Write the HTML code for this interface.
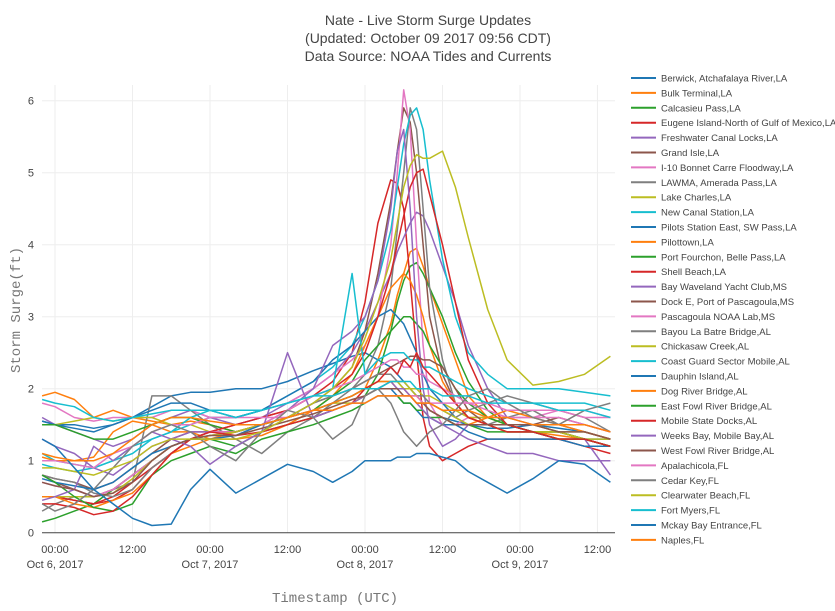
<!DOCTYPE html>
<html><head><meta charset="utf-8">
<style>
body{margin:0;background:#fff;}
svg{display:block;font-family:"Liberation Sans",sans-serif;}
</style></head>
<body>
<svg id="chart" width="835" height="611">
  <g id="grid"></g>
  <g id="lines"></g>
  <g id="axes"></g>
  <g id="legend"></g>
  <text x="428" y="25" text-anchor="middle" font-size="14" fill="#444">Nate - Live Storm Surge Updates</text>
  <text x="428" y="43" text-anchor="middle" font-size="14" fill="#444">(Updated: October 09 2017 09:56 CDT)</text>
  <text x="428" y="61" text-anchor="middle" font-size="14" fill="#444">Data Source: NOAA Tides and Currents</text>
  <text x="0" y="0" transform="translate(20,310) rotate(-90)" text-anchor="middle" font-size="14" fill="#777" font-family="Liberation Mono, monospace">Storm Surge(ft)</text>
  <text x="335" y="602" text-anchor="middle" font-size="14" fill="#777" font-family="Liberation Mono, monospace">Timestamp (UTC)</text>
</svg>
<script>
const hours = [-2,0,3,6,9,12,15,18,21,24,28,32,36,40,43,46,48,50,52,53,54,55,56,57,58,60,62,64,67,70,74,78,82,86];
const names = ["Berwick, Atchafalaya River,LA","Bulk Terminal,LA","Calcasieu Pass,LA","Eugene Island-North of Gulf of Mexico,LA","Freshwater Canal Locks,LA","Grand Isle,LA","I-10 Bonnet Carre Floodway,LA","LAWMA, Amerada Pass,LA","Lake Charles,LA","New Canal Station,LA","Pilots Station East, SW Pass,LA","Pilottown,LA","Port Fourchon, Belle Pass,LA","Shell Beach,LA","Bay Waveland Yacht Club,MS","Dock E, Port of Pascagoula,MS","Pascagoula NOAA Lab,MS","Bayou La Batre Bridge,AL","Chickasaw Creek,AL","Coast Guard Sector Mobile,AL","Dauphin Island,AL","Dog River Bridge,AL","East Fowl River Bridge,AL","Mobile State Docks,AL","Weeks Bay, Mobile Bay,AL","West Fowl River Bridge,AL","Apalachicola,FL","Cedar Key,FL","Clearwater Beach,FL","Fort Myers,FL","Mckay Bay Entrance,FL","Naples,FL"];
const colors = ["#1f77b4","#ff7f0e","#2ca02c","#d62728","#9467bd","#8c564b","#e377c2","#7f7f7f","#bcbd22","#17becf"];
const s0=[1.55,1.5,1.5,1.45,1.5,1.6,1.75,1.9,1.95,1.95,2.0,2.0,2.1,2.25,2.35,2.45,2.5,2.4,2.3,2.2,2.1,2.0,1.9,1.8,1.7,1.6,1.55,1.5,1.45,1.45,1.5,1.45,1.4,1.3];
const s1=[1.9,1.95,1.85,1.6,1.7,1.6,1.55,1.5,1.55,1.5,1.4,1.5,1.6,1.7,1.8,1.9,2.0,2.4,2.9,3.3,3.6,3.9,3.95,3.7,3.4,2.9,2.4,1.9,1.6,1.5,1.4,1.35,1.3,1.2];
const s2=[0.15,0.2,0.3,0.4,0.6,0.8,1.0,1.2,1.3,1.3,1.2,1.4,1.5,1.6,1.7,1.8,1.9,2.2,2.8,3.2,3.5,3.7,3.75,3.6,3.4,3.0,2.5,2.1,1.7,1.5,1.4,1.4,1.3,1.2];
const s3=[0.5,0.5,0.45,0.4,0.5,0.7,0.9,1.1,1.3,1.4,1.5,1.6,1.7,1.9,2.1,2.5,3.2,4.3,4.9,4.85,4.5,3.5,2.5,1.6,1.2,1.0,1.1,1.2,1.3,1.3,1.3,1.3,1.2,1.1];
const s4=[1.6,1.5,1.4,1.3,1.2,1.3,1.5,1.6,1.7,1.6,1.5,1.6,1.8,2.0,2.2,2.5,2.8,3.2,3.6,3.9,4.1,4.3,4.45,4.4,4.2,3.7,3.2,2.6,2.0,1.6,1.5,1.4,1.3,1.2];
const s5=[0.8,0.75,0.7,0.6,0.7,0.9,1.1,1.3,1.4,1.4,1.4,1.5,1.6,1.8,2.0,2.3,2.8,3.6,4.6,5.3,5.9,5.7,5.0,4.0,3.0,2.2,1.8,1.6,1.5,1.4,1.4,1.3,1.3,1.2];
const s6=[1.8,1.75,1.6,1.55,1.6,1.6,1.6,1.7,1.7,1.6,1.6,1.7,1.8,2.0,2.2,2.4,2.6,3.0,4.0,5.0,6.15,5.6,4.0,2.6,1.8,1.5,1.5,1.6,1.6,1.6,1.6,1.7,1.7,1.6];
const s7=[0.3,0.4,0.5,0.5,0.6,0.7,1.9,1.9,1.7,1.5,1.3,1.1,1.4,1.6,1.8,2.0,2.2,2.6,3.4,4.2,5.0,5.9,5.6,4.5,3.4,2.4,1.8,1.6,1.5,1.6,1.7,1.5,1.4,1.3];
const s8=[1.5,1.5,1.55,1.6,1.55,1.6,1.6,1.5,1.5,1.4,1.4,1.5,1.6,1.7,1.8,1.8,1.9,2.0,2.1,2.1,2.1,2.0,2.0,1.9,1.9,1.8,1.7,1.6,1.6,1.5,1.5,1.4,1.4,1.3];
const s9=[1.1,1.0,0.95,0.9,1.0,1.2,1.3,1.4,1.5,1.6,1.6,1.7,1.9,2.1,2.3,2.6,3.0,3.5,4.2,4.8,5.4,5.8,5.9,5.6,4.9,3.8,3.0,2.5,2.2,2.0,2.0,2.0,1.95,1.9];
const s10=[1.55,1.5,1.45,1.4,1.5,1.6,1.7,1.8,1.8,1.7,1.6,1.7,1.9,2.1,2.4,2.6,2.8,3.0,3.1,3.0,2.9,2.7,2.5,2.2,2.0,1.8,1.6,1.5,1.5,1.5,1.4,1.4,1.3,1.3];
const s11=[1.05,1.0,1.0,1.05,1.4,1.55,1.5,1.4,1.4,1.3,1.4,1.5,1.6,1.7,1.9,2.2,2.6,3.0,3.4,3.5,3.6,3.5,3.3,3.0,2.6,2.1,1.8,1.6,1.5,1.4,1.4,1.4,1.3,1.2];
const s12=[1.5,1.5,1.4,1.3,1.3,1.4,1.5,1.6,1.6,1.5,1.4,1.5,1.6,1.7,1.9,2.1,2.4,2.6,2.8,2.9,3.0,3.0,2.9,2.8,2.6,2.3,2.0,1.8,1.6,1.5,1.4,1.4,1.3,1.2];
const s13=[0.5,0.5,0.45,0.4,0.45,0.6,0.9,1.1,1.3,1.4,1.5,1.6,1.7,1.9,2.0,2.2,2.5,3.0,3.6,4.0,4.4,4.8,5.0,5.05,4.7,4.0,3.2,2.4,1.8,1.5,1.4,1.3,1.3,1.2];
const s14=[1.3,1.2,1.1,0.9,0.8,1.0,1.2,1.3,1.4,1.4,1.4,1.5,1.7,2.0,2.6,2.8,3.0,3.5,4.5,5.3,5.6,4.5,3.0,2.0,1.5,1.2,1.3,1.5,1.5,1.4,1.4,1.3,1.3,0.8];
const s15=[0.8,0.7,0.6,0.5,0.6,0.8,1.0,1.2,1.3,1.4,1.4,1.5,1.6,1.8,1.9,2.0,2.1,2.2,2.3,2.35,2.4,2.45,2.45,2.4,2.4,2.3,2.0,1.7,1.5,1.5,1.5,1.6,1.5,1.4];
const s16=[0.7,0.65,0.6,0.5,0.6,0.8,1.0,1.2,1.3,1.4,1.4,1.5,1.7,1.9,2.0,2.1,2.2,2.3,2.4,2.4,2.3,2.3,2.2,2.2,2.1,2.0,1.9,1.8,1.7,1.6,1.6,1.6,1.5,1.4];
const s17=[0.8,0.75,0.7,0.55,0.5,0.6,0.9,1.1,1.3,1.35,1.4,1.5,1.6,1.8,1.9,2.0,2.1,2.2,2.2,2.1,2.0,2.0,1.9,1.9,1.8,1.7,1.6,1.7,1.8,1.9,1.8,1.7,1.6,1.4];
const s18=[0.5,0.5,0.5,0.5,0.55,0.75,1.0,1.2,1.3,1.35,1.4,1.5,1.6,1.7,1.8,1.9,2.0,2.1,2.1,2.1,2.0,2.0,1.9,1.8,1.8,1.7,1.6,1.5,1.5,1.4,1.4,1.4,1.3,1.3];
const s19=[0.95,0.9,0.85,0.9,1.0,1.1,1.3,1.4,1.6,1.7,1.7,1.7,1.8,1.9,2.0,3.6,2.2,2.4,2.5,2.5,2.5,2.4,2.4,2.3,2.3,2.2,2.1,2.0,1.9,1.8,1.8,1.8,1.8,1.7];
const s20=[0.75,0.7,0.65,0.6,0.7,0.9,1.1,1.2,1.3,1.3,1.35,1.5,1.6,1.7,1.8,1.9,2.0,2.0,2.0,1.9,1.8,1.8,1.7,1.6,1.6,1.5,1.5,1.4,1.3,1.3,1.3,1.3,1.2,1.2];
const s21=[0.5,0.5,0.4,0.35,0.45,0.55,0.8,1.1,1.2,1.3,1.3,1.35,1.5,1.7,1.8,1.9,2.0,2.1,2.1,2.0,2.0,1.9,1.9,1.8,1.7,1.6,1.5,1.5,1.6,1.7,1.6,1.5,1.4,1.3];
const s22=[0.8,0.7,0.5,0.35,0.3,0.4,0.8,1.0,1.1,1.2,1.1,1.3,1.4,1.5,1.6,1.7,1.8,1.9,1.9,1.9,1.8,1.8,1.7,1.7,1.6,1.6,1.5,1.5,1.4,1.4,1.4,1.3,1.3,1.2];
const s23=[0.4,0.4,0.35,0.25,0.3,0.5,0.8,1.1,1.3,1.4,1.35,1.4,1.5,1.6,1.7,1.8,2.0,2.1,2.3,2.2,2.4,2.3,2.5,2.3,2.2,2.0,1.8,1.6,1.5,1.4,1.4,1.3,1.3,1.2];
const s24=[0.45,0.5,0.6,1.2,1.0,1.2,1.4,1.3,1.2,0.95,1.2,1.4,2.5,1.6,1.7,1.8,1.9,2.0,2.1,2.0,2.0,1.9,1.8,1.7,1.6,1.5,1.4,1.3,1.2,1.1,1.1,1.0,1.0,1.0];
const s25=[0.7,0.65,0.6,0.5,0.55,0.7,1.0,1.2,1.3,1.35,1.35,1.45,1.55,1.65,1.75,1.85,1.9,2.0,2.0,2.0,1.9,1.9,1.8,1.8,1.7,1.6,1.5,1.5,1.5,1.5,1.5,1.4,1.4,1.3];
const s26=[1.0,1.0,0.95,0.9,1.1,1.2,1.4,1.5,1.5,1.6,1.6,1.6,1.6,1.7,1.7,1.8,1.8,1.9,1.9,1.9,1.9,1.9,1.9,1.8,1.8,1.8,1.8,1.8,1.8,1.7,1.7,1.7,1.6,1.6];
const s27=[0.4,0.3,0.4,0.6,0.9,1.2,1.4,1.5,1.4,1.2,1.0,1.4,1.7,1.6,1.3,1.5,1.9,2.0,1.8,1.6,1.4,1.3,1.2,1.3,1.4,1.5,1.7,1.9,2.0,1.8,1.6,1.5,1.7,1.8];
const s28=[0.9,0.9,0.85,0.8,0.9,1.0,1.2,1.3,1.3,1.3,1.3,1.4,1.6,1.8,2.0,2.3,2.7,3.2,3.8,4.3,4.8,5.1,5.25,5.2,5.2,5.3,4.8,4.1,3.1,2.4,2.05,2.1,2.2,2.45];
const s29=[1.85,1.8,1.75,1.6,1.55,1.6,1.65,1.7,1.7,1.7,1.6,1.7,1.8,1.9,1.9,2.0,2.0,2.0,2.1,2.1,2.1,2.1,2.0,2.0,2.0,1.9,1.9,1.9,1.8,1.8,1.8,1.7,1.7,1.6];
const s30=[1.3,1.2,0.9,0.6,0.4,0.2,0.1,0.12,0.6,0.88,0.55,0.75,0.95,0.85,0.7,0.85,1.0,1.0,1.0,1.05,1.05,1.05,1.1,1.1,1.1,1.05,1.0,0.85,0.7,0.55,0.75,1.0,0.95,0.7];
const s31=[1.1,1.05,1.0,1.0,1.1,1.3,1.5,1.6,1.6,1.55,1.5,1.5,1.6,1.7,1.7,1.8,1.8,1.9,1.9,1.9,1.9,1.9,1.8,1.8,1.8,1.7,1.7,1.7,1.6,1.6,1.5,1.5,1.5,1.4];
const series=[s0,s1,s2,s3,s4,s5,s6,s7,s8,s9,s10,s11,s12,s13,s14,s15,s16,s17,s18,s19,s20,s21,s22,s23,s24,s25,s26,s27,s28,s29,s30,s31];
const yTicks=[0,1,2,3,4,5,6];
const xTickHours=[0,12,24,36,48,60,72,84];
const xTickLabels=["00:00|Oct 6, 2017","12:00","00:00|Oct 7, 2017","12:00","00:00|Oct 8, 2017","12:00","00:00|Oct 9, 2017","12:00"];

const NS="http://www.w3.org/2000/svg";
const X0=42,X1=615,Y0=532.7;
function xs(h){return 55+h*6.458;}
function ys(v){return Y0-v*72;}
function mk(tag,attrs,parent){const e=document.createElementNS(NS,tag);for(const k in attrs)e.setAttribute(k,attrs[k]);parent.appendChild(e);return e;}
const grid=document.getElementById('grid'),lines=document.getElementById('lines'),axes=document.getElementById('axes'),legend=document.getElementById('legend');
yTicks.forEach(v=>{
  if(v>0){const g=mk('line',{x1:X0,x2:X1,y1:ys(v),y2:ys(v),stroke:'#eee','stroke-width':1},grid);
  
  }
  const t=mk('text',{x:X0-8,y:ys(v)+4,'text-anchor':'end','font-size':11,fill:'#444'},axes);
  t.textContent=v;
  
  
});
xTickHours.forEach((h,i)=>{
  const g=mk('line',{x1:xs(h),x2:xs(h),y1:85,y2:Y0,stroke:'#eee','stroke-width':1},grid);
  
  
  const parts=xTickLabels[i].split('|');
  parts.forEach((p,j)=>{
    const t=mk('text',{x:xs(h),y:553+j*15,'text-anchor':'middle','font-size':11,fill:'#444'},axes);
    t.textContent=p;
    
    
  });
});
series.forEach((vals,i)=>{
  const pts=vals.map((v,k)=>xs(hours[k]).toFixed(1)+','+ys(v).toFixed(1)).join(' ');
  const p=mk('polyline',{points:pts,fill:'none',stroke:colors[i%10],'stroke-width':1.5,'stroke-linejoin':'round'},lines);
  
  
  const gy=78+i*14.9;
  const g=mk('g',{},legend);
  
  
  mk('line',{x1:631,x2:656,y1:gy,y2:gy,stroke:colors[i%10],'stroke-width':2},g);
  const t=mk('text',{x:661,y:gy+3.5,'font-size':9.5,fill:'#444'},g);
  t.textContent=names[i];
});
const z=mk('line',{x1:X0,x2:X1,y1:Y0,y2:Y0,stroke:'#444','stroke-width':1},axes);


</script>
</body></html>
